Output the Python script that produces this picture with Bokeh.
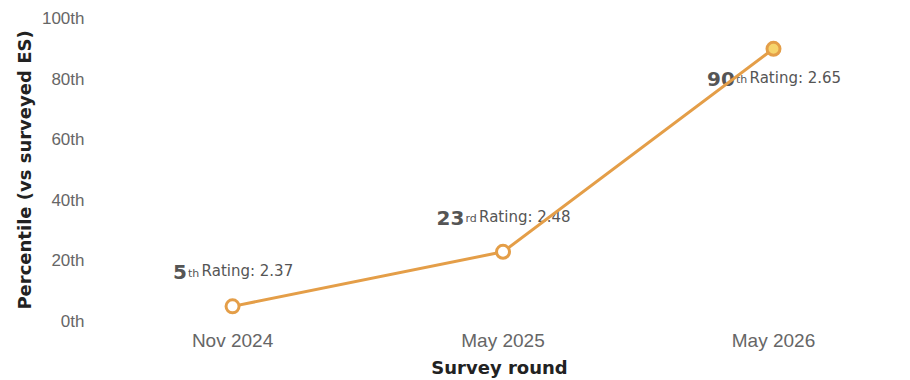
from bokeh.plotting import figure
from bokeh.models import ColumnDataSource, Range1d, FixedTicker
from bokeh.embed import file_html
from bokeh.resources import INLINE
from bokeh.core.properties import value

# ---- data ----
rounds = ["Nov 2024", "May 2025", "May 2026"]
percentiles = [5, 23, 90]
ratings = [2.37, 2.48, 2.65]
y_ticks = [0, 20, 40, 60, 80, 100]
y_tick_labels = ["0th", "20th", "40th", "60th", "80th", "100th"]


def ordinal_suffix(n):
    if 10 <= n % 100 <= 20:
        return "th"
    return {1: "st", 2: "nd", 3: "rd"}.get(n % 10, "th")


xs = list(range(len(rounds)))
LINE = "#E49E48"

p = figure(width=910, height=380, output_backend="svg", toolbar_location=None,
           x_range=Range1d(-0.503, 2.477), y_range=Range1d(0, 100),
           min_border_left=96, min_border_right=8, min_border_top=18, min_border_bottom=58)
p.background_fill_color = "white"
p.border_fill_color = "white"
p.outline_line_color = None
p.xgrid.visible = False
p.ygrid.visible = False

# ---- annotations (drawn first, line passes over) ----
NUM_SIZE, SUF_SIZE, RAT_SIZE = 20, 11, 15
num_txt, suf_txt, rat_txt = [], [], []
num_dx, suf_dx, rat_dx, num_dy, suf_dy, rat_dy = [], [], [], [], [], []
for v, r in zip(percentiles, ratings):
    n = str(v)
    s = ordinal_suffix(v)
    t = f"Rating: {r:.2f}"
    num_w = len(n) * 0.70 * NUM_SIZE
    suf_w = 0.62 * SUF_SIZE * len(s)
    rat_w = 6.1 * RAT_SIZE
    block = num_w + suf_w + rat_w
    anchor = -block / 2 + num_w
    base = 30 if v > 80 else -34
    num_txt.append(n); suf_txt.append(s); rat_txt.append(t)
    num_dx.append(anchor); suf_dx.append(anchor + 1); rat_dx.append(anchor + suf_w + 1)
    num_dy.append(base); suf_dy.append(base + 1); rat_dy.append(base - 1)

lab = ColumnDataSource(dict(x=xs, y=percentiles, num=num_txt, suf=suf_txt, rat=rat_txt,
                            ndx=num_dx, sdx=suf_dx, rdx=rat_dx,
                            ndy=num_dy, sdy=suf_dy, rdy=rat_dy))
p.text(x="x", y="y", text="num", source=lab, x_offset="ndx", y_offset="ndy",
       text_align="right", text_baseline="alphabetic",
       text_font=value("DejaVu Sans"), text_font_style="bold",
       text_font_size=f"{NUM_SIZE}px", text_color="#555555")
p.text(x="x", y="y", text="suf", source=lab, x_offset="sdx", y_offset="sdy",
       text_align="left", text_baseline="alphabetic",
       text_font=value("DejaVu Sans"), text_font_size=f"{SUF_SIZE}px", text_color="#555555")
p.text(x="x", y="y", text="rat", source=lab, x_offset="rdx", y_offset="rdy",
       text_align="left", text_baseline="alphabetic",
       text_font=value("DejaVu Sans"), text_font_size=f"{RAT_SIZE}px", text_color="#555555")

# ---- line + points ----
fills = ["white"] * (len(xs) - 1) + ["#F6D46C"]
src = ColumnDataSource(dict(x=xs, y=percentiles, fill=fills))
p.line(x="x", y="y", source=src, line_color=LINE, line_width=3)
p.scatter(x="x", y="y", source=src, size=13, fill_color="fill",
          line_color=LINE, line_width=3)

# ---- axes ----
p.xaxis.ticker = FixedTicker(ticks=xs)
p.xaxis.major_label_overrides = {i: r for i, r in zip(xs, rounds)}
p.yaxis.ticker = FixedTicker(ticks=y_ticks)
p.yaxis.major_label_overrides = {t: l for t, l in zip(y_ticks, y_tick_labels)}

for ax in (p.xaxis, p.yaxis):
    ax.axis_line_color = None
    ax.major_tick_line_color = None
    ax.minor_tick_line_color = None
    ax.major_tick_out = 0
    ax.major_tick_in = 0
    ax.major_label_text_font = "Liberation Sans"
    ax.major_label_text_color = "#666666"
    ax.axis_label_text_font = "DejaVu Sans"
    ax.axis_label_text_font_style = "bold"
    ax.axis_label_text_font_size = "18px"
    ax.axis_label_text_color = "#222222"

p.xaxis.axis_label = "Survey round"
p.yaxis.axis_label = "Percentile (vs surveyed ES)"
p.xaxis.major_label_text_font_size = "19px"
p.yaxis.major_label_text_font_size = "17px"
p.xaxis.major_label_standoff = 8
p.xaxis.axis_label_standoff = 3
p.yaxis.major_label_standoff = 12
p.yaxis.axis_label_standoff = 4

open("out.html", "w").write(file_html(p, INLINE))
